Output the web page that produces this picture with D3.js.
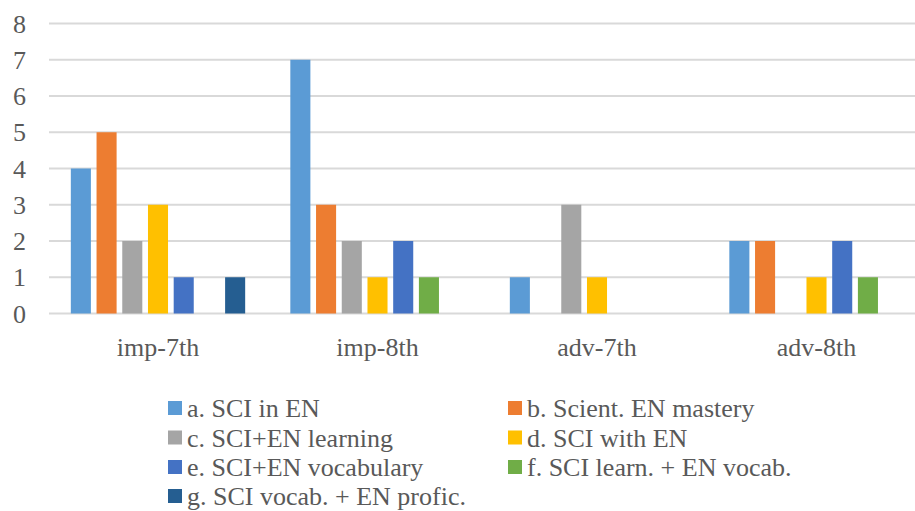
<!DOCTYPE html>
<html>
<head>
<meta charset="utf-8">
<script src="https://cdn.jsdelivr.net/npm/d3@7"></script>
<style>
html,body{margin:0;padding:0;background:#fff;}
svg{display:block;}
</style>
</head>
<body>
<svg id="chart" width="915" height="511" font-family="'Liberation Serif', 'Times New Roman', 'DejaVu Serif', serif"></svg>
<script>
const categories = ["imp-7th", "imp-8th", "adv-7th", "adv-8th"];
const seriesNames = ["a. SCI in EN", "b. Scient. EN mastery", "c. SCI+EN learning", "d. SCI with EN",
  "e. SCI+EN vocabulary", "f. SCI learn. + EN vocab.", "g. SCI vocab. + EN profic."];
const seriesColors = ["#5B9BD5", "#ED7D31", "#A5A5A5", "#FFC000", "#4472C4", "#70AD47", "#255E91"];
const valuesA = [4, 7, 1, 2];
const valuesB = [5, 3, 0, 2];
const valuesC = [2, 2, 3, 0];
const valuesD = [3, 1, 1, 1];
const valuesE = [1, 2, 0, 2];
const valuesF = [0, 1, 0, 1];
const valuesG = [1, 0, 0, 0];
const yTicks = [0, 1, 2, 3, 4, 5, 6, 7, 8];

const seriesValues = [valuesA, valuesB, valuesC, valuesD, valuesE, valuesF, valuesG];
const FONT = "'Liberation Serif', 'Times New Roman', 'DejaVu Serif', serif";
const TXT = "#595959";

const svg = d3.select("#chart");
const x0 = d3.scaleBand().domain(categories).range([49, 927]).paddingInner(0).paddingOuter(0);
const x1 = d3.scaleBand().domain(d3.range(seriesNames.length)).range([19, 199]).paddingInner(0.22).paddingOuter(0.11);
const y = d3.scaleLinear().domain([0, 8]).range([313.5, 23.5]);

// gridlines
svg.append("g").selectAll("line").data(yTicks).join("line")
  .attr("x1", 49).attr("x2", 915)
  .attr("y1", d => y(d)).attr("y2", d => y(d))
  .attr("stroke", "#D9D9D9").attr("stroke-width", 2);

// y labels
svg.append("g").selectAll("text").data(yTicks).join("text")
  .attr("x", 26).attr("y", d => y(d)).attr("dy", "0.35em")
  .attr("text-anchor", "end").attr("font-size", 26)
  .attr("font-family", FONT).attr("fill", TXT).text(d => d);

// bars
const groups = svg.append("g").selectAll("g").data(categories).join("g")
  .attr("transform", d => `translate(${x0(d)},0)`);
groups.selectAll("rect")
  .data((c, ci) => seriesValues.map((vals, si) => ({si, v: vals[ci]})).filter(d => d.v > 0))
  .join("rect")
  .attr("x", d => x1(d.si)).attr("width", x1.bandwidth())
  .attr("y", d => y(d.v)).attr("height", d => y(0) - y(d.v))
  .attr("fill", d => seriesColors[d.si]);

// x labels
svg.append("g").selectAll("text").data(categories).join("text")
  .attr("x", d => x0(d) + x1(0) + (x1(6) + x1.bandwidth() - x1(0)) / 2)
  .attr("y", 356).attr("text-anchor", "middle").attr("font-size", 26)
  .attr("font-family", FONT).attr("fill", TXT).text(d => d);

// legend
const legendCols = [168, 508];
const legendRowY = [408, 437.5, 467, 496];
const leg = svg.append("g").selectAll("g").data(seriesNames).join("g")
  .attr("transform", (d, i) => `translate(${legendCols[i % 2]},${legendRowY[Math.floor(i / 2)]})`);
leg.append("rect").attr("x", 0).attr("y", -7).attr("width", 14).attr("height", 14)
  .attr("fill", (d, i) => seriesColors[i]);
leg.append("text").attr("x", 19).attr("y", 0).attr("dy", "0.35em")
  .attr("font-size", 26).attr("font-family", FONT).attr("fill", TXT).text(d => d);
</script>
</body>
</html>
